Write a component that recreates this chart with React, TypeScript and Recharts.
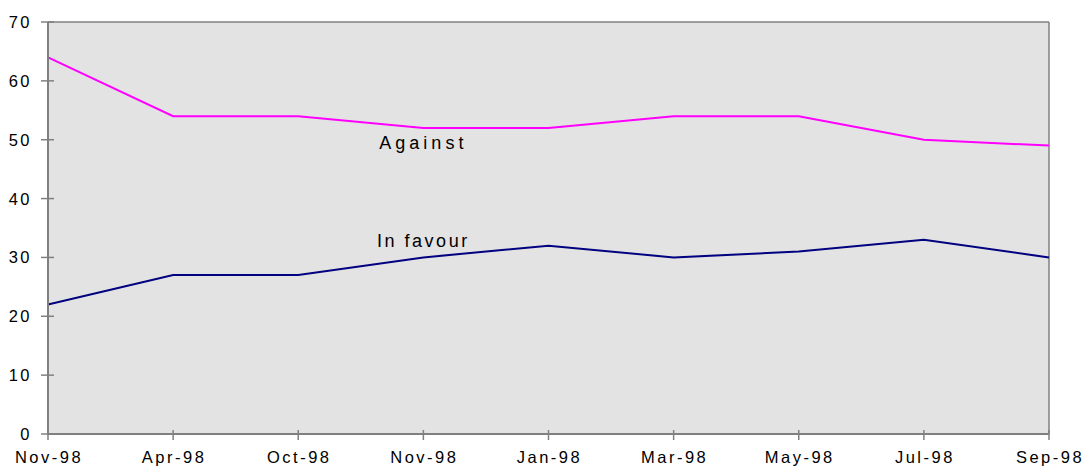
import React from "react";
import { LineChart, Line, XAxis, YAxis, CartesianGrid, ReferenceLine, LabelList } from "recharts";

const months = ["Nov-98", "Apr-98", "Oct-98", "Nov-98", "Jan-98", "Mar-98", "May-98", "Jul-98", "Sep-98"];
const against = [64, 54, 54, 52, 52, 54, 54, 50, 49];
const inFavour = [22, 27, 27, 30, 32, 30, 31, 33, 30];
const yTicks = [0, 10, 20, 30, 40, 50, 60, 70];

const data = months.map((m, i) => ({ idx: i, month: m, against: against[i], inFavour: inFavour[i] }));

const FONT = "'Liberation Sans', Arial, sans-serif";

const YTick = (props: any) => {
  const { x, y, payload } = props;
  return (
    <g>
      <line x1={x - 7} x2={x + 6} y1={y} y2={y} stroke="#808080" strokeWidth={1.5} />
      <text x={x - 16} y={y} dy={6} textAnchor="end" fontSize={16.5} letterSpacing={2.5} fill="#000" fontFamily={FONT}>
        {payload.value}
      </text>
    </g>
  );
};

const XTick = (props: any) => {
  const { x, y, payload } = props;
  return (
    <g>
      <line x1={x} x2={x} y1={y - 4} y2={y + 6} stroke="#808080" strokeWidth={1.5} />
      <text x={x + 1} y={y + 29} textAnchor="middle" fontSize={16.5} letterSpacing={2.5} fill="#000" fontFamily={FONT}>
        {months[payload.value]}
      </text>
    </g>
  );
};

const makeLabel = (text: string, offset: number, spacing: number) => (props: any) => {
  const { x, y, index } = props;
  if (index !== 3) return null;
  return (
    <text x={x} y={y + offset} textAnchor="middle" fontSize={18} letterSpacing={spacing} fill="#000" fontFamily={FONT}>
      {text}
    </text>
  );
};

export default function App() {
  return (
    <div style={{ position: "absolute", left: 0, top: 0 }}>
      <LineChart width={1086} height={468} data={data} margin={{ top: 22, right: 37, bottom: 0, left: 0 }}>
        <CartesianGrid fill="#e3e3e3" stroke="none" horizontal={false} vertical={false} />
        <XAxis
          dataKey="idx"
          type="number"
          domain={[0, 8]}
          ticks={[0, 1, 2, 3, 4, 5, 6, 7, 8]}
          height={34}
          axisLine={{ stroke: "#808080", strokeWidth: 2 }}
          tickLine={false}
          tickSize={0}
          tickMargin={0}
          tick={<XTick />}
          interval={0}
        />
        <YAxis
          domain={[0, 70]}
          ticks={yTicks}
          width={48}
          axisLine={{ stroke: "#808080", strokeWidth: 2 }}
          tickLine={false}
          tickSize={0}
          tickMargin={0}
          tick={<YTick />}
          interval={0}
        />
        <ReferenceLine y={70} stroke="#808080" strokeWidth={1.5} />
        <ReferenceLine x={8} stroke="#808080" strokeWidth={1.5} />
        <Line
          dataKey="against"
          stroke="#ff00ff"
          strokeWidth={2}
          dot={false}
          isAnimationActive={false}
        >
          <LabelList dataKey="against" content={makeLabel("Against", 21, 4)} />
        </Line>
        <Line
          dataKey="inFavour"
          stroke="#000080"
          strokeWidth={2}
          dot={false}
          isAnimationActive={false}
        >
          <LabelList dataKey="inFavour" content={makeLabel("In favour", -10, 2.5)} />
        </Line>
      </LineChart>
    </div>
  );
}
